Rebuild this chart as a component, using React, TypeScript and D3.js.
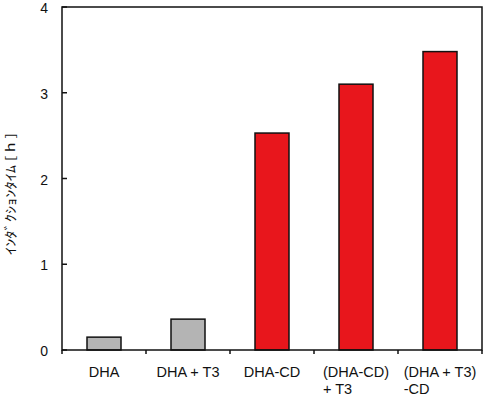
import * as d3 from 'd3';
import React, { useRef, useEffect } from 'react';

const categories = ['DHA', 'DHA + T3', 'DHA-CD', '(DHA-CD)|+ T3', '(DHA + T3)|-CD'];
const values = [0.15, 0.36, 2.53, 3.1, 3.48];
const barColors = ['#b4b4b4', '#b4b4b4', '#e8161c', '#e8161c', '#e8161c'];
const yTicks = [0, 1, 2, 3, 4];
const yLabel = 'ｲﾝﾀﾞｸｼｮﾝﾀｲﾑ [ h ]';

const W = 485;
const H = 396;
const FONT = 'Liberation Sans, Arial, sans-serif';

function App() {
  const ref = useRef(null);

  useEffect(() => {
    const svg = d3.select(ref.current);
    svg.selectAll('*').remove();

    const left = 62, right = 482, top = 7, bottom = 350;

    const x = d3.scaleBand().domain(categories).range([left, right]).padding(0);
    const y = d3.scaleLinear().domain([0, 4]).range([bottom, top]);
    const barW = 34;

    // bars
    svg.selectAll('rect.bar')
      .data(values)
      .enter()
      .append('rect')
      .attr('class', 'bar')
      .attr('x', (d, i) => x(categories[i]) + x.bandwidth() / 2 - barW / 2)
      .attr('y', d => y(d))
      .attr('width', barW)
      .attr('height', d => bottom - y(d))
      .attr('fill', (d, i) => barColors[i])
      .attr('stroke', '#111')
      .attr('stroke-width', 1.5);

    // frame
    svg.append('rect')
      .attr('x', left).attr('y', top)
      .attr('width', right - left).attr('height', bottom - top)
      .attr('fill', 'none').attr('stroke', '#111').attr('stroke-width', 1.5);

    // y ticks (inward)
    const gy = svg.append('g');
    yTicks.forEach(t => {
      gy.append('line')
        .attr('x1', left).attr('x2', left + 5)
        .attr('y1', y(t)).attr('y2', y(t))
        .attr('stroke', '#111').attr('stroke-width', 1.5);
      gy.append('text')
        .attr('x', 48).attr('y', y(t) + 1)
        .attr('dy', '0.36em')
        .attr('text-anchor', 'end')
        .attr('font-family', FONT)
        .attr('font-size', 14)
        .attr('fill', '#111')
        .text(t);
    });

    // x ticks at band boundaries (outward)
    const bounds = categories.map(c => x(c)).concat([right]);
    bounds.forEach(b => {
      svg.append('line')
        .attr('x1', b).attr('x2', b)
        .attr('y1', bottom).attr('y2', bottom + 4)
        .attr('stroke', '#111').attr('stroke-width', 1.5);
    });

    // x labels
    categories.forEach(c => {
      const lines = c.split('|');
      const cx = x(c) + x.bandwidth() / 2;
      const t = svg.append('text')
        .attr('font-family', FONT)
        .attr('font-size', 14.5)
        .attr('fill', '#111')
        .attr('x', cx).attr('y', 377)
        .attr('text-anchor', 'middle')
        .text(lines[0]);
      if (lines.length > 1) {
        const bb = t.node().getBBox();
        svg.append('text')
          .attr('font-family', FONT)
          .attr('font-size', 14.5)
          .attr('fill', '#111')
          .attr('x', bb.x).attr('y', 394)
          .text(lines[1]);
      }
    });

    // y label
    svg.append('text')
      .attr('transform', 'translate(15,194) rotate(-90)')
      .attr('text-anchor', 'middle')
      .attr('font-family', 'Noto Sans CJK JP, sans-serif')
      .attr('font-size', 13)
      .attr('textLength', 122)
      .attr('lengthAdjust', 'spacingAndGlyphs')
      .attr('fill', '#111')
      .text(yLabel);
  }, []);

  return (
    <svg ref={ref} width={W} height={H} style={{ position: 'absolute', left: 0, top: 0 }}></svg>
  );
}

export default App;
